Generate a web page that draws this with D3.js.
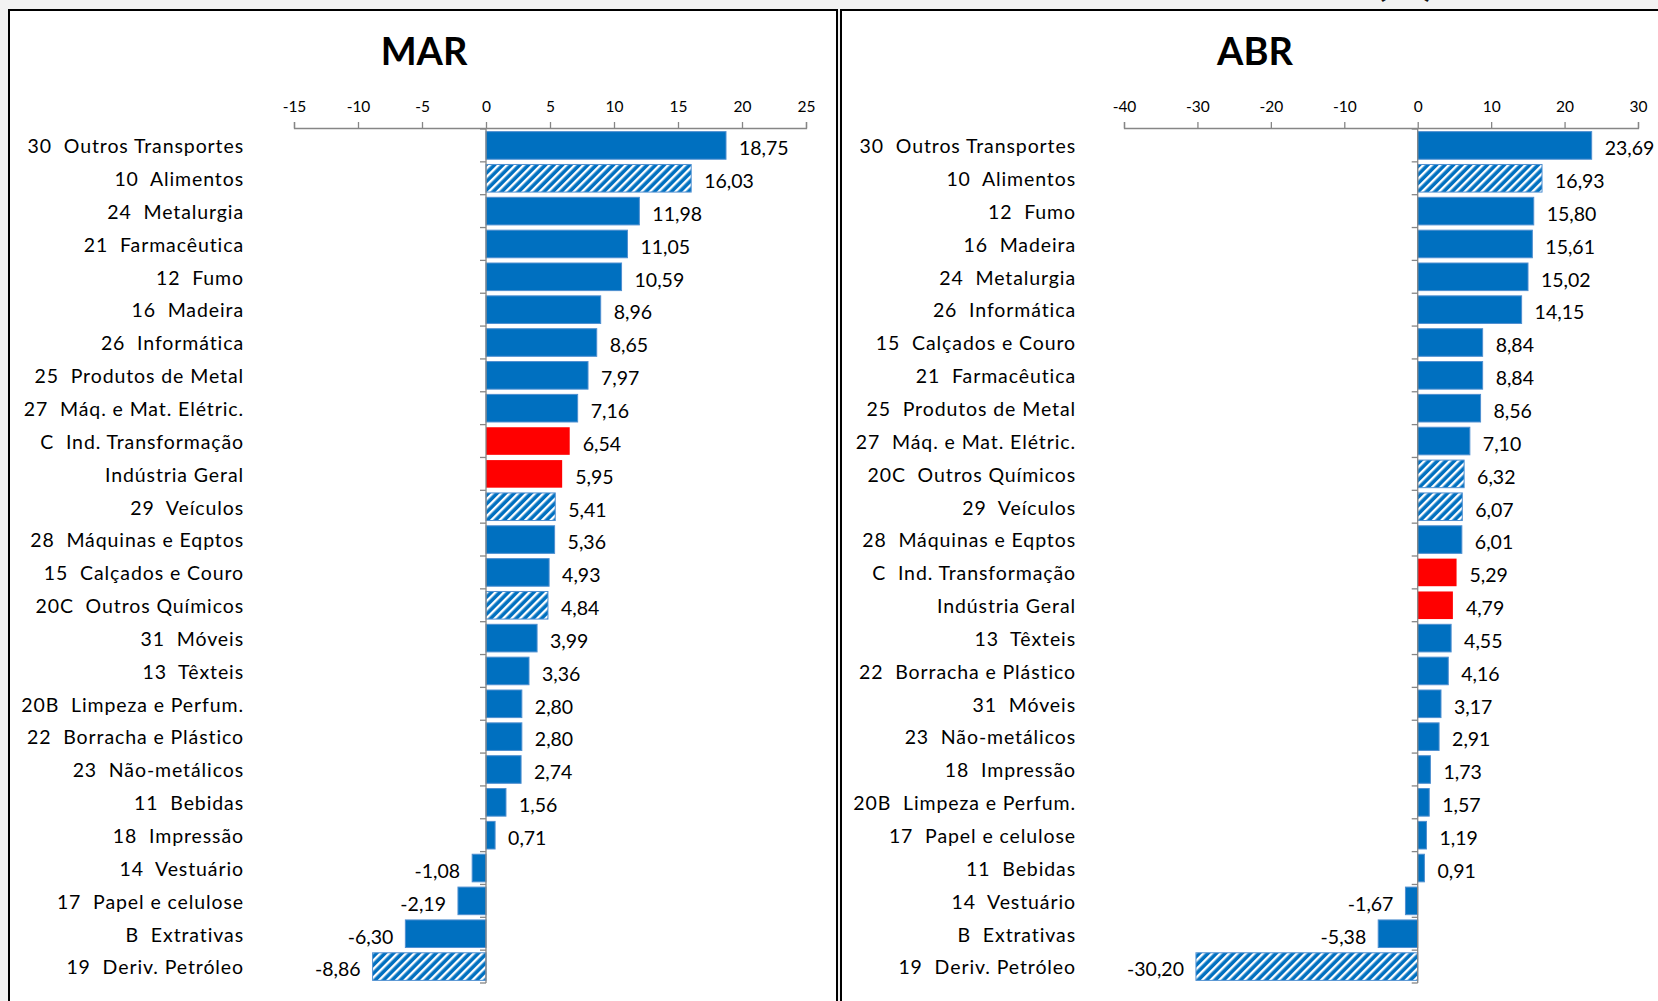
<!DOCTYPE html>
<html><head><meta charset="utf-8">
<script src="https://cdn.jsdelivr.net/npm/d3@7"></script>
<style>
html,body{margin:0;padding:0;background:#f2f2f2;}
svg{display:block;}
text{font-family:Lato,"Open Sans",sans-serif;}
</style></head>
<body>
<svg id="c" width="1658" height="1001"></svg>
<script>
// ---- data ----
const marCategories = ["30  Outros Transportes","10  Alimentos","24  Metalurgia","21  Farmacêutica","12  Fumo","16  Madeira","26  Informática","25  Produtos de Metal","27  Máq. e Mat. Elétric.","C  Ind. Transformação","Indústria Geral","29  Veículos","28  Máquinas e Eqptos","15  Calçados e Couro","20C  Outros Químicos","31  Móveis","13  Têxteis","20B  Limpeza e Perfum.","22  Borracha e Plástico","23  Não-metálicos","11  Bebidas","18  Impressão","14  Vestuário","17  Papel e celulose","B  Extrativas","19  Deriv. Petróleo"];
const marValues = [18.75,16.03,11.98,11.05,10.59,8.96,8.65,7.97,7.16,6.54,5.95,5.41,5.36,4.93,4.84,3.99,3.36,2.80,2.80,2.74,1.56,0.71,-1.08,-2.19,-6.30,-8.86];
const marTicks = [-15,-10,-5,0,5,10,15,20,25];

const abrCategories = ["30  Outros Transportes","10  Alimentos","12  Fumo","16  Madeira","24  Metalurgia","26  Informática","15  Calçados e Couro","21  Farmacêutica","25  Produtos de Metal","27  Máq. e Mat. Elétric.","20C  Outros Químicos","29  Veículos","28  Máquinas e Eqptos","C  Ind. Transformação","Indústria Geral","13  Têxteis","22  Borracha e Plástico","31  Móveis","23  Não-metálicos","18  Impressão","20B  Limpeza e Perfum.","17  Papel e celulose","11  Bebidas","14  Vestuário","B  Extrativas","19  Deriv. Petróleo"];
const abrValues = [23.69,16.93,15.80,15.61,15.02,14.15,8.84,8.84,8.56,7.10,6.32,6.07,6.01,5.29,4.79,4.55,4.16,3.17,2.91,1.73,1.57,1.19,0.91,-1.67,-5.38,-30.20];
const abrTicks = [-40,-30,-20,-10,0,10,20,30];

// categories drawn hatched / red
const hatchedCodes = ["10","29","20C","19"];
const totalNames = ["C  Ind. Transformação","Indústria Geral"];

const svg = d3.select("#c");
const defs = svg.append("defs");
const pat = defs.append("pattern").attr("id","hatch").attr("patternUnits","userSpaceOnUse")
  .attr("width",6).attr("height",6).attr("patternTransform","rotate(45)");
pat.append("rect").attr("width",6).attr("height",6).attr("fill","#0070C0");
pat.append("rect").attr("x",0).attr("width",2.4).attr("height",6).attr("fill","#ffffff");

// partially visible page title (cut off at top of the image)
svg.append("text").attr("x",1405).attr("y",-5).attr("text-anchor","middle")
  .attr("font-size",44).attr("font-weight","bold").attr("fill","#111").text("(%)");

// panels
svg.append("rect").attr("x",9).attr("y",10).attr("width",828).attr("height",1100)
  .attr("fill","#fff").attr("stroke","#000").attr("stroke-width",2);
svg.append("rect").attr("x",841).attr("y",10).attr("width",900).attr("height",1100)
  .attr("fill","#fff").attr("stroke","#000").attr("stroke-width",2);

function fillFor(cat){
  const code = cat.split("  ")[0];
  if (totalNames.includes(cat)) return "#FF0000";
  if (hatchedCodes.includes(code) && cat.includes("  ")) return "url(#hatch)";
  return "#0070C0";
}

function panel(opt){
  const g = svg.append("g");
  const x = d3.scaleLinear().domain(opt.domain).range(opt.range);
  const y = d3.scaleBand().domain(opt.cats).range([129,983]).paddingInner(0.16).paddingOuter(0.08);
  const yAxisScale = d3.scaleBand().domain(opt.cats).range([129,983]);

  // title
  g.append("text").attr("x",opt.titleX).attr("y",65).attr("text-anchor","middle")
    .attr("font-size",38).attr("font-weight","bold").attr("fill","#000").text(opt.title);

  // x axis (top)
  const xa = g.append("g").attr("transform","translate(0,128)")
    .call(d3.axisTop(x).tickValues(opt.ticks).tickSize(6).tickSizeOuter(6).tickFormat(d=>d));
  xa.select(".domain").attr("stroke","#868686").attr("stroke-width",1.3);
  xa.selectAll(".tick line").attr("stroke","#868686").attr("stroke-width",1.3);
  xa.selectAll(".tick text").attr("font-size",15.5).attr("fill","#000").attr("y",-16)
    .attr("font-family","'Liberation Sans Narrow',Lato,sans-serif");

  // bars
  g.selectAll("rect.bar").data(opt.values).enter().append("rect").attr("class","bar")
    .attr("x",d=>x(Math.min(0,d))).attr("width",d=>Math.abs(x(d)-x(0)))
    .attr("y",(d,i)=>y(opt.cats[i])).attr("height",y.bandwidth())
    .attr("fill",(d,i)=>fillFor(opt.cats[i]))
    .attr("stroke",(d,i)=>totalNames.includes(opt.cats[i])?"none":"#4f8fd0").attr("stroke-width",1);

  // y axis line at zero with ticks at band boundaries
  const bounds = opt.cats.map(c=>yAxisScale(c)).concat([983]);
  g.append("line").attr("x1",x(0)).attr("x2",x(0)).attr("y1",129).attr("y2",983)
    .attr("stroke","#868686").attr("stroke-width",1.3);
  g.selectAll("line.yt").data(bounds).enter().append("line").attr("class","yt")
    .attr("x1",x(0)-6).attr("x2",x(0)).attr("y1",d=>d).attr("y2",d=>d)
    .attr("stroke","#868686").attr("stroke-width",1.3);

  // category labels
  g.selectAll("text.cat").data(opt.cats).enter().append("text").attr("class","cat")
    .attr("x",opt.labelX).attr("y",d=>y(d)+y.bandwidth()/2+1).attr("dy","0.35em")
    .attr("text-anchor","end").attr("font-size",19.5).attr("letter-spacing","0.9px").attr("fill","#000")
    .style("white-space","pre").attr("xml:space","preserve").text(d=>d);

  // value labels
  g.selectAll("text.val").data(opt.values).enter().append("text").attr("class","val")
    .attr("x",d=>d>=0?x(d)+13:x(d)-12)
    .attr("y",(d,i)=>y(opt.cats[i])+y.bandwidth()/2+3).attr("dy","0.35em")
    .attr("text-anchor",d=>d>=0?"start":"end").attr("font-size",19.5).attr("fill","#000")
    .text(d=>d.toFixed(2).replace(".",","));
}

panel({title:"MAR",titleX:424,cats:marCategories,values:marValues,ticks:marTicks,
  domain:[-15,25],range:[294,806],labelX:244});
panel({title:"ABR",titleX:1255,cats:abrCategories,values:abrValues,ticks:abrTicks,
  domain:[-40,30],range:[1124,1638],labelX:1076});
</script>
</body></html>
